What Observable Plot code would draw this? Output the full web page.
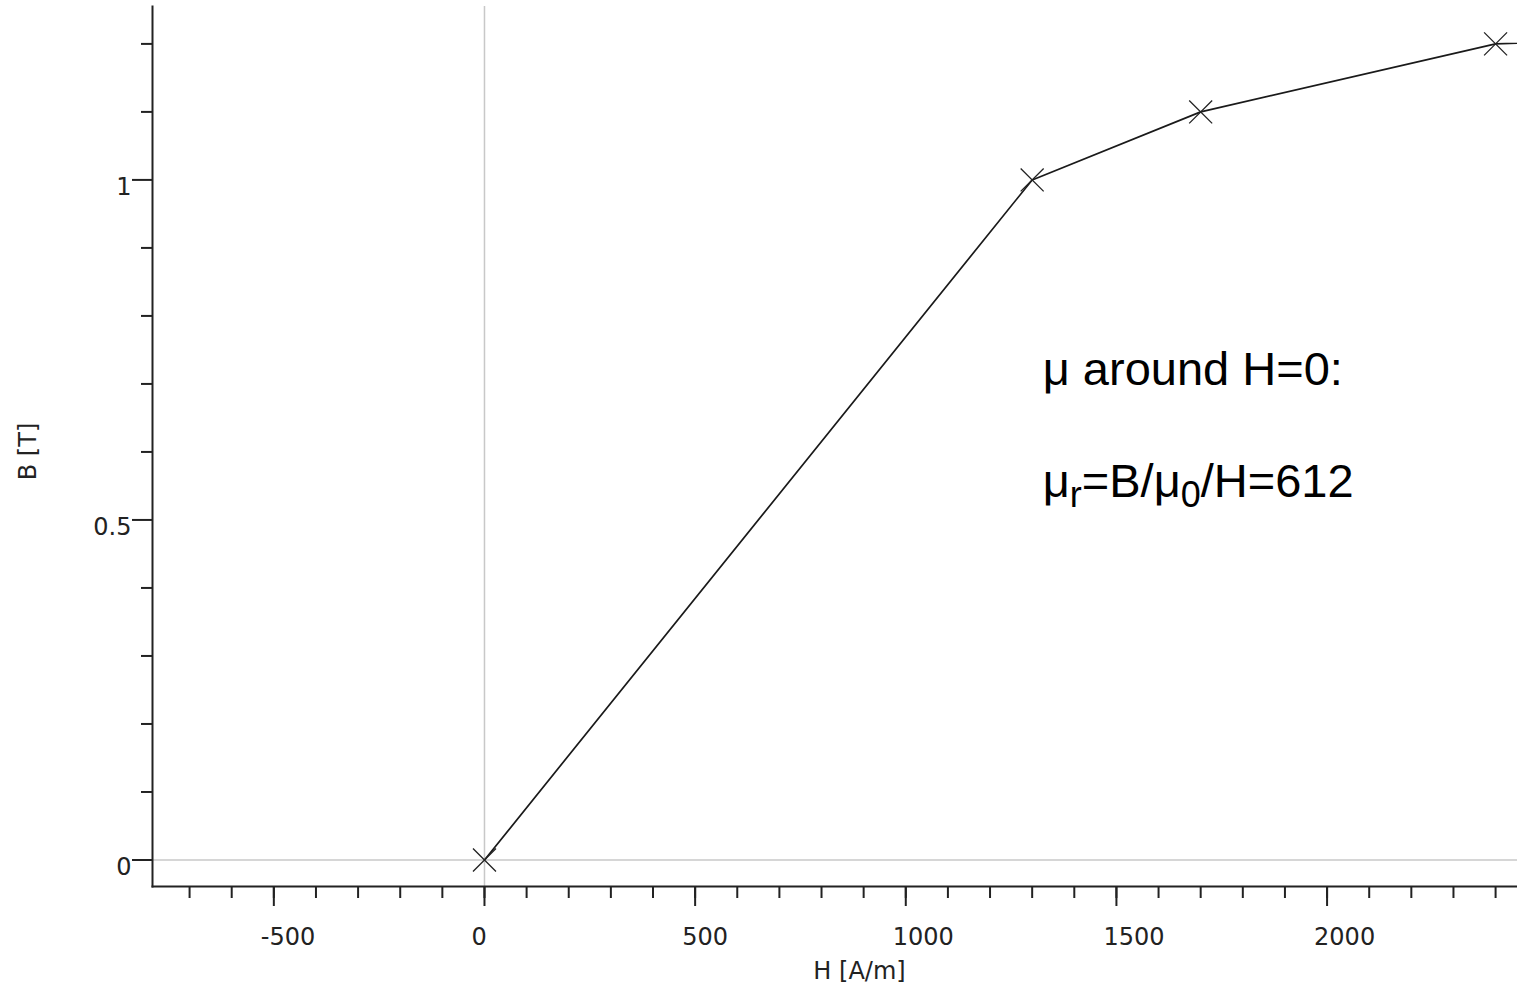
<!DOCTYPE html>
<html>
<head>
<meta charset="utf-8">
<script src="https://cdn.jsdelivr.net/npm/d3@7"></script>
<script src="https://cdn.jsdelivr.net/npm/@observablehq/plot@0.6"></script>
<style>
  html, body { margin: 0; padding: 0; background: #fff; }
  svg { display: block; }
</style>
</head>
<body>
<div id="chart"></div>
<script>
// Data: B-H curve points (H in A/m, B in T)
const H = [0, 1300, 1700, 2400, 5000];
const B = [0, 1.0, 1.1, 1.2, 1.25];

// Axis ticks
const xMajorTicks = [-500, 0, 500, 1000, 1500, 2000];
const xMinorTicks = [-700, -600, -500, -400, -300, -200, -100, 0, 100, 200, 300, 400, 500, 600, 700, 800, 900, 1000, 1100, 1200, 1300, 1400, 1500, 1600, 1700, 1800, 1900, 2000, 2100, 2200, 2300, 2400];
const yMajorTicks = [0, 0.5, 1];
const yMinorTicks = [0.1, 0.2, 0.3, 0.4, 0.6, 0.7, 0.8, 0.9, 1.1, 1.2];
const xDomain = [-788, 2452];
const yDomain = [-0.039, 1.255];

// Labels
const xLabel = "H [A/m]";
const yLabel = "B [T]";

// Annotation (text with _x meaning subscript x)
const annText = ["μ around H=0:", "μ_r=B/μ_0/H=612"];
const annH = [1325, 1325];
const annB = [0.698, 0.5335];

const data = H.map((h, i) => ({H: h, B: B[i]}));
const annotations = annText.map((t, i) => ({text: t, H: annH[i], B: annB[i]}));
const fmt = d => String(d);
const axisColor = "#222";

const plot = Plot.plot({
  width: 1517,
  height: 986,
  marginLeft: 152,
  marginRight: 0,
  marginTop: 6,
  marginBottom: 100,
  style: {fontFamily: "DejaVu Sans", fontSize: "24px", color: axisColor, background: "#fff", overflow: "visible"},
  x: {domain: xDomain},
  y: {domain: yDomain},
  marks: [
    // zero grid lines
    Plot.ruleX([0], {stroke: "#c8c8c8", strokeWidth: 1.5}),
    Plot.ruleY([0], {stroke: "#c8c8c8", strokeWidth: 1.5}),
    // axis lines
    Plot.frame({anchor: "bottom", stroke: axisColor, strokeWidth: 2}),
    Plot.frame({anchor: "left", stroke: axisColor, strokeWidth: 2}),
    // x ticks
    Plot.axisX(xMinorTicks, {tickSize: 12, fill: "none", strokeWidth: 2, label: null}),
    Plot.axisX(xMajorTicks, {tickSize: 20, fill: "none", strokeWidth: 2, label: null}),
    Plot.axisX(xMajorTicks, {tickSize: 0, tickPadding: 41.5, textAnchor: "start", dx: -13, tickFormat: fmt, label: null, fill: axisColor}),
    // y ticks
    Plot.axisY(yMinorTicks, {tickSize: 11, fill: "none", strokeWidth: 2, label: null}),
    Plot.axisY(yMajorTicks, {tickSize: 20, fill: "none", strokeWidth: 2, label: null}),
    Plot.axisY(yMajorTicks, {tickSize: 0, tickPadding: 21, dy: 7, tickFormat: fmt, label: null, fill: axisColor}),
    // axis titles
    Plot.text([xLabel], {text: d => d, frameAnchor: "bottom", textAnchor: "middle", dx: 24.5, dy: 92, lineAnchor: "bottom", fill: axisColor, fontSize: 24}),
    Plot.text([yLabel], {text: d => d, frameAnchor: "left", textAnchor: "middle", lineAnchor: "middle", rotate: -90, dx: -124.5, dy: 5, fill: axisColor, fontSize: 24}),
    // curve
    Plot.line(data, {x: "H", y: "B", stroke: "#1a1a1a", strokeWidth: 1.7, clip: true}),
    Plot.dot(data, {x: "H", y: "B", symbol: "times", r: 10.5, stroke: "#222", strokeWidth: 1.3, clip: true}),
    // annotation
    Plot.text(annotations, {x: "H", y: "B", text: "text", textAnchor: "start", lineAnchor: "bottom",
      fontFamily: "Liberation Sans, Arial, sans-serif", fontSize: 47, fill: "#000", className: "ann"})
  ]
});

// Render subscripts in annotation text as tspans
d3.select(plot).selectAll("g.ann text").each(function () {
  const s = this.textContent;
  if (!s.includes("_")) return;
  const sel = d3.select(this);
  sel.text("");
  const parts = s.split(/(_.)/).filter(p => p.length);
  for (const p of parts) {
    if (p[0] === "_") {
      sel.append("tspan").attr("font-size", "36px").attr("baseline-shift", "-10px").text(p.slice(1));
    } else {
      sel.append("tspan").text(p);
    }
  }
});

document.getElementById("chart").appendChild(plot);
</script>
</body>
</html>
